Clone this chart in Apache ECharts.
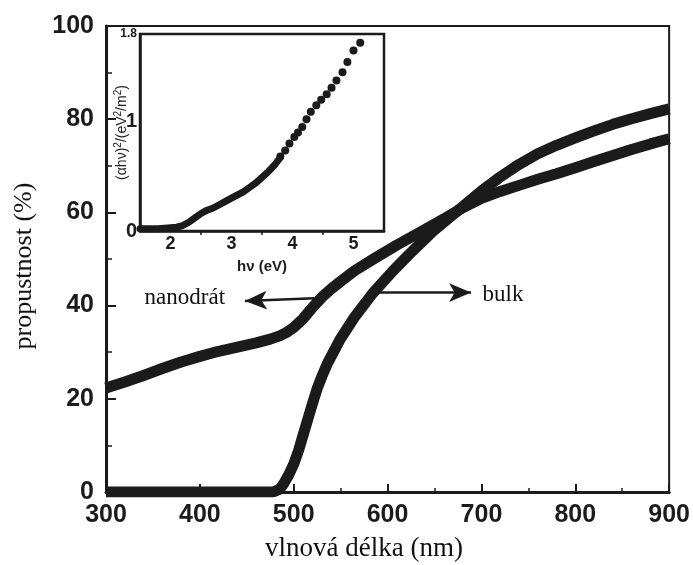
<!DOCTYPE html>
<html>
<head>
<meta charset="utf-8">
<script src="https://cdn.jsdelivr.net/npm/echarts@6/dist/echarts.min.js"></script>
<style>
html,body{margin:0;padding:0;background:#fff;}
#chart{width:693px;height:565px;}
</style>
</head>
<body>
<div id="chart"></div>
<script>
// ---- Main plot data: transmittance (%) vs wavelength (nm) ----
const nanoWavelength = [300,320,340,360,380,400,420,440,460,475,485,492,500,510,520,530,540,550,565,585,610,635,660,680,700,720,740,760,780,800,820,840,860,880,900];
const nanoTransmit   = [22.3,23.6,25.0,26.5,27.9,29.1,30.2,31.1,32.0,32.8,33.5,34.2,35.3,37.2,39.6,41.8,43.6,45.2,47.5,50.0,53.0,55.8,58.6,61.0,63.0,64.5,65.8,67.1,68.3,69.6,70.9,72.2,73.5,74.7,75.8];

const bulkWavelength = [300,350,400,450,478,485,490,495,500,505,510,515,520,525,530,536,549,565,584,605,623,648,672,700,720,740,760,780,800,820,840,860,880,900];
const bulkTransmit   = [0,0,0,0,0,0.6,2.0,3.8,6.0,8.8,12.2,15.6,19.0,22.2,24.8,27.6,32.6,37.6,42.6,47.3,51.0,55.9,59.9,64.6,67.6,70.3,72.6,74.4,76.0,77.5,78.9,80.1,81.2,82.2];

const mainXTicks = [300,400,500,600,700,800,900];
const mainYTicks = [0,20,40,60,80,100];

// ---- Inset data: (alpha h nu)^2 vs h nu (eV) ----
const insetLineEnergy = [1.5,1.8,2.0,2.1,2.2,2.3,2.4,2.5,2.6,2.7,2.8,2.9,3.0,3.1,3.2,3.3,3.4,3.5,3.6,3.7,3.8];
const insetLineValue  = [0.02,0.02,0.03,0.035,0.05,0.08,0.12,0.16,0.19,0.21,0.24,0.27,0.30,0.33,0.36,0.40,0.44,0.49,0.54,0.60,0.67];
const insetDotEnergy  = [3.80,3.88,3.95,4.03,4.09,4.16,4.23,4.30,4.39,4.47,4.56,4.64,4.72,4.82,4.90,5.00,5.11];
const insetDotValue   = [0.68,0.735,0.80,0.86,0.90,0.95,1.02,1.09,1.15,1.20,1.25,1.31,1.375,1.45,1.545,1.65,1.72];
const insetXLabels = [2,3,4,5];
const insetXTicks  = [2.5,3.5,4.5];
const insetYLabels = [0,1,1.8];

// ---- Annotations (data coordinates) ----
const nanoArrow = [[522,41.6],[448,41.0]];
const bulkArrow = [[588,42.8],[689,42.8]];
const nanoLabelAt = [384,41.6];
const bulkLabelAt = [723,42.2];

const INK = '#1b1b1b';
const SANS = '"Liberation Sans", Arial, Helvetica, sans-serif';
const SERIF = '"Liberation Serif", "Times New Roman", serif';

const zip = (a,b) => a.map((v,i) => [v,b[i]]);

const chart = echarts.init(document.getElementById('chart'), null, {renderer:'canvas'});
chart.setOption({
  animation: false,
  backgroundColor: '#fff',
  grid: [
    {left:106, top:26, width:564, height:466, show:true, borderColor:INK, borderWidth:2, backgroundColor:'transparent'},
    {left:140, top:34, width:244, height:197, show:true, borderColor:INK, borderWidth:2.5, backgroundColor:'#fff', z:3}
  ],
  xAxis: [
    {
      gridIndex:0, type:'value', min:300, max:900, interval:100,
      axisLine:{show:true, onZero:false, lineStyle:{color:INK, width:3}},
      axisTick:{show:true, inside:true, length:8, lineStyle:{color:INK, width:2}},
      minorTick:{show:true, splitNumber:2, length:4, lineStyle:{color:INK, width:1.5}},
      splitLine:{show:false},
      axisLabel:{color:INK, fontFamily:SANS, fontWeight:'bold', fontSize:25, margin:11,
        customValues: mainXTicks}
    },
    {
      gridIndex:1, type:'value', min:1.5, max:5.5,
      axisLine:{show:true, onZero:false, lineStyle:{color:INK, width:2.5}},
      axisTick:{show:true, inside:false, length:4, customValues: insetXTicks, lineStyle:{color:INK, width:1.5}},
      splitLine:{show:false},
      axisLabel:{color:INK, fontFamily:SANS, fontWeight:'bold', fontSize:18, margin:4, customValues: insetXLabels},
      name:'hν (eV)', nameLocation:'middle', nameGap:28, nameMoveOverlap:false,
      nameTextStyle:{color:INK, fontFamily:SANS, fontWeight:'bold', fontSize:15},
      z:4
    }
  ],
  yAxis: [
    {
      gridIndex:0, type:'value', min:0, max:100, interval:20,
      axisLine:{show:true, onZero:false, lineStyle:{color:INK, width:3}},
      axisTick:{show:true, inside:true, length:10, lineStyle:{color:INK, width:2}},
      minorTick:{show:true, splitNumber:2, length:6, lineStyle:{color:INK, width:1.5}},
      splitLine:{show:false},
      axisLabel:{color:INK, fontFamily:SANS, fontWeight:'bold', fontSize:25, margin:12,
        customValues: mainYTicks}
    },
    {
      gridIndex:1, type:'value', min:0, max:1.8,
      axisLine:{show:true, onZero:false, lineStyle:{color:INK, width:2.5}},
      axisTick:{show:false},
      splitLine:{show:false},
      axisLabel:{
        margin:3, customValues: insetYLabels,
        formatter: v => (v > 1.5 ? '{s|' + v + '}' : '{b|' + v + '}'),
        rich:{
          s:{color:INK, fontFamily:SANS, fontWeight:'bold', fontSize:12},
          b:{color:INK, fontFamily:SANS, fontWeight:'bold', fontSize:20}
        }
      },
      name:'{a|(αhν)}{s|2}{a|/(eV}{s|2}{a|/m}{s|2}{a|)}', nameLocation:'middle', nameGap:11, nameRotate:90, nameMoveOverlap:false,
      nameTextStyle:{
        color:INK, fontFamily:SANS, fontSize:14,
        rich:{
          a:{color:INK, fontFamily:SANS, fontSize:14, lineHeight:16, verticalAlign:'bottom'},
          s:{color:INK, fontFamily:SANS, fontSize:10, lineHeight:16, verticalAlign:'top', padding:[0,0,6,0]}
        }
      },
      z:4
    }
  ],
  series: [
    {
      name:'nanodrát', type:'line', xAxisIndex:0, yAxisIndex:0,
      data: zip(nanoWavelength, nanoTransmit),
      showSymbol:false, smooth:false,
      lineStyle:{color:INK, width:11, cap:'butt', join:'round'},
      z:2,
      markLine:{
        silent:true, symbol:['none','arrow'], symbolSize:[14,22],
        label:{show:false},
        lineStyle:{color:INK, width:2.5, type:'solid'},
        data:[
          [{coord:nanoArrow[0]},{coord:nanoArrow[1]}],
          [{coord:bulkArrow[0]},{coord:bulkArrow[1]}]
        ]
      },
      markPoint:{
        silent:true,
        data:[
          {coord:nanoLabelAt, symbol:'circle', symbolSize:1, itemStyle:{color:'rgba(0,0,0,0)'},
            label:{show:true, position:'inside', formatter:'nanodrát', color:'#111', fontFamily:SERIF, fontSize:23}},
          {coord:bulkLabelAt, symbol:'circle', symbolSize:1, itemStyle:{color:'rgba(0,0,0,0)'},
            label:{show:true, position:'inside', formatter:'bulk', color:'#111', fontFamily:SERIF, fontSize:23}}
        ]
      }
    },
    {
      name:'bulk', type:'line', xAxisIndex:0, yAxisIndex:0,
      data: zip(bulkWavelength, bulkTransmit),
      showSymbol:false, smooth:false,
      lineStyle:{color:INK, width:11, cap:'butt', join:'round'},
      z:2
    },
    {
      name:'inset-line', type:'line', xAxisIndex:1, yAxisIndex:1,
      data: zip(insetLineEnergy, insetLineValue),
      showSymbol:false, smooth:false,
      lineStyle:{color:INK, width:7, cap:'round', join:'round'},
      z:5
    },
    {
      name:'inset-dots', type:'scatter', xAxisIndex:1, yAxisIndex:1,
      data: zip(insetDotEnergy, insetDotValue),
      symbol:'circle', symbolSize:8,
      itemStyle:{color:INK, opacity:1},
      z:5
    }
  ],
  graphic: [
    {type:'text', x:24, y:266, rotation:Math.PI/2, silent:true,
      style:{text:'propustnost (%)', fill:'#111', font:'26px ' + SERIF, textAlign:'center', textVerticalAlign:'middle'}},
    {type:'text', x:364, y:549, silent:true,
      style:{text:'vlnová délka (nm)', fill:'#111', font:'27px ' + SERIF, textAlign:'center', textVerticalAlign:'middle'}}
  ]
});
</script>
</body>
</html>
